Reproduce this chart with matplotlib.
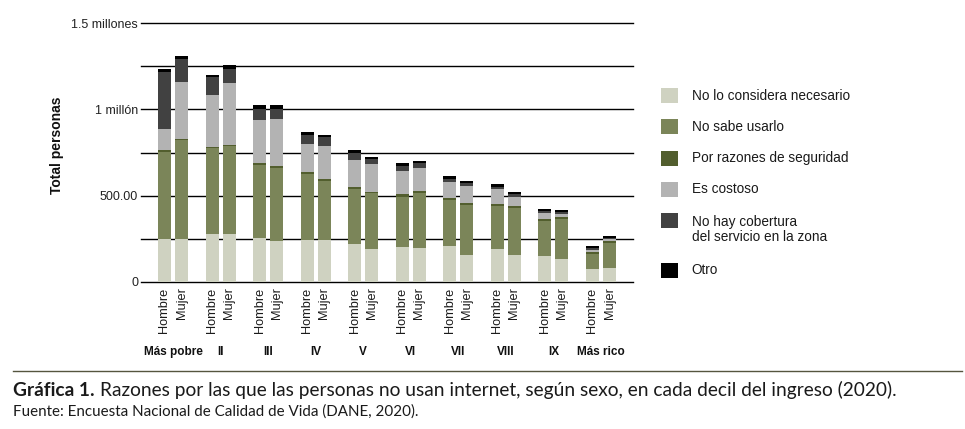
import matplotlib
matplotlib.use("Agg")
import matplotlib.pyplot as plt
import matplotlib.transforms as mtransforms
from matplotlib.patches import Rectangle
import numpy as np

# Data (thousands of persons)
deciles = ["Más pobre", "II", "III", "IV", "V", "VI", "VII", "VIII", "IX", "Más rico"]
sexes = ["Hombre", "Mujer"]
reasons = [
    "No lo considera necesario",
    "No sabe usarlo",
    "Por razones de seguridad",
    "Es costoso",
    "No hay cobertura\ndel servicio en la zona",
    "Otro",
]
colors = ["#cfd2c1", "#7b8559", "#525e2e", "#b3b3b3", "#414141", "#000000"]

necesario_h = [250, 279, 255, 244, 221, 203, 209, 192, 149, 74]
necesario_m = [250, 279, 238, 244, 192, 197, 157, 157, 132, 81]
sabe_h = [505, 497, 422, 381, 319, 289, 265, 247, 203, 87]
sabe_m = [571, 509, 424, 342, 321, 318, 290, 271, 232, 144]
seguridad_h = [10, 8, 14, 10, 10, 17, 14, 12, 12, 11]
seguridad_m = [9, 7, 11, 12, 9, 11, 12, 11, 11, 11]
costoso_h = [122, 301, 249, 166, 158, 135, 91, 89, 33, 12]
costoso_m = [331, 360, 273, 191, 159, 136, 98, 53, 18, 12]
cobertura_h = [333, 105, 62, 52, 39, 28, 19, 11, 13, 10]
cobertura_m = [132, 79, 58, 49, 29, 25, 14, 15, 10, 6]
otro_h = [15, 10, 23, 16, 17, 17, 15, 16, 12, 13]
otro_m = [17, 24, 21, 13, 15, 13, 13, 15, 13, 13]

hombre = [necesario_h, sabe_h, seguridad_h, costoso_h, cobertura_h, otro_h]
mujer = [necesario_m, sabe_m, seguridad_m, costoso_m, cobertura_m, otro_m]

yticks = [0, 500000, 1000000, 1500000]
ytick_labels = ["0", "500.00", "1 millón", "1.5 millones"]

plt.rcParams["font.family"] = ["Liberation Sans", "DejaVu Sans"]

W, H = 965, 429
fig = plt.figure(figsize=(W / 100, H / 100), dpi=100)
ax = fig.add_axes([141 / W, 1 - 281.7 / H, (633 - 141) / W, (281.7 - 23.3) / H])

x = np.arange(len(deciles))
off = 0.179
width = 0.275

for series, shift in [(hombre, -off), (mujer, off)]:
    bottom = np.zeros(len(deciles))
    for vals, c in zip(series, colors):
        v = np.array(vals) * 1000.0
        ax.bar(x + shift, v, width, bottom=bottom, color=c, linewidth=0, zorder=2)
        bottom += v

ax.set_xlim(-0.673, len(deciles) - 1 + 0.673)
ax.set_ylim(0, 1500000)

# horizontal rules every 250k
for yv in np.arange(0, 1500001, 250000):
    ax.axhline(yv, color="black", lw=1.0, zorder=1, clip_on=False)

for s in ax.spines.values():
    s.set_visible(False)

ax.set_yticks(yticks)
ax.set_yticklabels(ytick_labels)
ax.tick_params(axis="y", length=0, pad=2, labelsize=9, labelcolor="#222222")

pos = np.concatenate([x - off, x + off])
labs = [sexes[0]] * len(x) + [sexes[1]] * len(x)
ax.set_xticks(pos)
ax.set_xticklabels(labs, rotation=90, fontsize=9.2, color="#1a1a1a", va="top", ha="center")
ax.tick_params(axis="x", length=0, pad=4)

trans = mtransforms.blended_transform_factory(ax.transData, ax.transAxes)
for i, name in enumerate(deciles):
    ax.text(i, -0.271, name, transform=trans, ha="center", va="center",
            fontsize=8.5, fontweight="bold", color="#111111")

fig.text(56.7 / W, 1 - 145 / H, "Total personas", rotation=90, ha="center", va="center",
         fontsize=10, fontweight="bold", color="#111111")

# legend drawn by hand
y_px = 95.7
for name, c in zip(reasons, colors):
    n = name.count("\n") + 1
    fig.patches.append(Rectangle((660.7 / W, 1 - (y_px + 7.5) / H), 17.5 / W, 15 / H,
                                 transform=fig.transFigure, facecolor=c, edgecolor="none"))
    fig.text(691.7 / W, 1 - (y_px + (n - 1) * 9) / H, name, ha="left", va="center",
             fontsize=9.8, color="#1a1a1a", linespacing=1.05)
    y_px += 31.2 + (n - 1) * 18.5

# caption
fig.add_artist(plt.Line2D([13 / W, 962 / W], [1 - 371.3 / H] * 2, transform=fig.transFigure,
                          color="#55553f", lw=1.0))

cap_font = ["Lato", "DejaVu Sans"]
renderer = fig.canvas.get_renderer()
t1 = fig.text(13 / W, 1 - 396 / H, "Gráfica 1.", fontweight="bold", fontsize=13,
              family=cap_font, va="baseline", color="#1a1a1a")
bb = t1.get_window_extent(renderer)
t2 = fig.text((bb.x1 + 5) / W, 1 - 396 / H,
              "Razones por las que las personas no usan internet, según sexo, en cada decil del ingreso (2020).",
              fontsize=13, family=cap_font, va="baseline", color="#1a1a1a")
bb2 = t2.get_window_extent(renderer)
scale = (893 - 13) / (bb2.x1 - bb.x0)
for t in (t1, t2):
    t.set_fontsize(13 * scale)
bb = t1.get_window_extent(renderer)
t2.set_x((bb.x1 + 5 * scale) / W)

t3 = fig.text(13 / W, 1 - 416 / H, "Fuente: Encuesta Nacional de Calidad de Vida (DANE, 2020).",
              fontsize=11, family=cap_font, va="baseline", color="#1a1a1a")
bb3 = t3.get_window_extent(renderer)
t3.set_fontsize(11 * (418 - 13) / bb3.width)

fig.savefig("out.png", dpi=100)
